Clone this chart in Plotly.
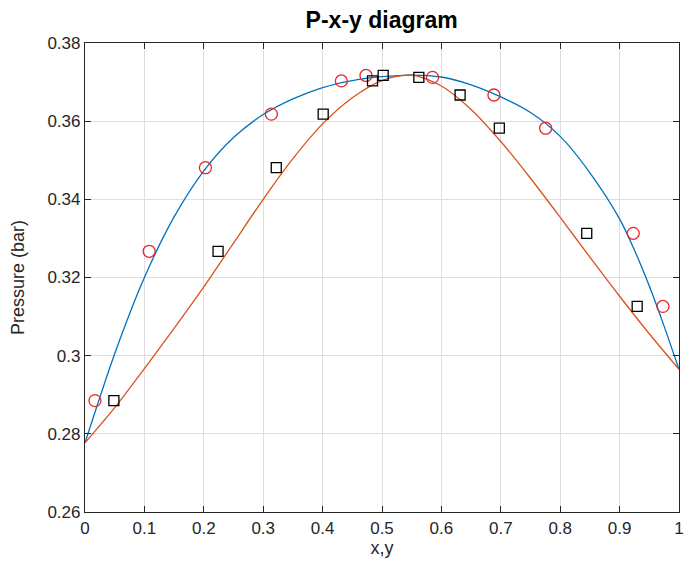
import plotly.graph_objects as go

# Liquid (x) and vapour (y) experimental data
x_liq = [0.0486, 0.224, 0.322, 0.401, 0.484, 0.502, 0.562, 0.6315, 0.6975, 0.8447, 0.9296]
p_liq = [0.2885, 0.3267, 0.3481, 0.3618, 0.3703, 0.3717, 0.3712, 0.3667, 0.3582, 0.3313, 0.3126]
y_vap = [0.0168, 0.108, 0.2027, 0.3137, 0.4316, 0.473, 0.585, 0.6884, 0.7755, 0.923, 0.973]
p_vap = [0.2885, 0.3267, 0.3481, 0.3618, 0.3703, 0.3717, 0.3712, 0.3667, 0.3582, 0.3313, 0.3126]

# Model curves
dew_x = [0.0, 0.05, 0.1, 0.15, 0.2, 0.25, 0.3, 0.35, 0.4, 0.45, 0.5, 0.55, 0.6,
         0.65, 0.7, 0.75, 0.8, 0.85, 0.9, 0.925, 0.95, 0.975, 1.0]
dew_p = [0.2777, 0.3005, 0.3200, 0.3355, 0.3473, 0.3558, 0.3617, 0.3657, 0.3686, 0.3704,
         0.3714, 0.3718, 0.3713, 0.3693, 0.3662, 0.3622, 0.3561, 0.3468, 0.3350, 0.3270,
         0.3178, 0.3075, 0.2965]
bub_x = [0.0, 0.05, 0.1, 0.15, 0.2, 0.25, 0.3, 0.35, 0.4, 0.45, 0.5, 0.55, 0.6, 0.65, 0.7,
         0.75, 0.8, 0.85, 0.9, 0.95, 1.0]
bub_p = [0.2777, 0.2867, 0.2967, 0.3070, 0.3176, 0.3288, 0.3400, 0.3504, 0.3593, 0.3660,
         0.3704, 0.3718, 0.3690, 0.3630, 0.3548, 0.3454, 0.3354, 0.3252, 0.3152, 0.3056, 0.2965]

x_ticks = [0, 0.1, 0.2, 0.3, 0.4, 0.5, 0.6, 0.7, 0.8, 0.9, 1]
x_labels = ["0", "0.1", "0.2", "0.3", "0.4", "0.5", "0.6", "0.7", "0.8", "0.9", "1"]
y_ticks = [0.26, 0.28, 0.30, 0.32, 0.34, 0.36, 0.38]
y_labels = ["0.26", "0.28", "0.3", "0.32", "0.34", "0.36", "0.38"]

FONT = "Liberation Sans, Arial, Helvetica"

fig = go.Figure()
fig.add_trace(go.Scatter(x=dew_x, y=dew_p, mode="lines",
                         line=dict(color="#0072BD", width=1.3, shape="spline", smoothing=0.8)))
fig.add_trace(go.Scatter(x=bub_x, y=bub_p, mode="lines",
                         line=dict(color="#D95319", width=1.3, shape="spline", smoothing=0.8)))
fig.add_trace(go.Scatter(x=y_vap, y=p_vap, mode="markers",
                         marker=dict(symbol="circle-open", size=12, color="#E8262B", line=dict(width=1.3))))
fig.add_trace(go.Scatter(x=x_liq, y=p_liq, mode="markers",
                         marker=dict(symbol="square-open", size=10, color="black", line=dict(width=1.3))))

axis_common = dict(showline=True, linecolor="#262626", linewidth=1.2, mirror="ticks",
                   ticks="inside", ticklen=6, tickcolor="#262626", tickwidth=1,
                   showgrid=True, gridcolor="#DEDEDE", gridwidth=1, zeroline=False,
                   ticklabeloverflow="allow", automargin=False,
                   tickfont=dict(family=FONT, size=17, color="#262626"))

fig.update_layout(
    width=684, height=563,
    margin=dict(l=85, r=5, t=43, b=51),
    paper_bgcolor="white", plot_bgcolor="white",
    showlegend=False,
    title=dict(text="<b>P-x-y diagram</b>", x=0.5580, xanchor="center",
               y=1 - 20 / 563, yanchor="middle",
               font=dict(family=FONT, size=23, color="black")),
    xaxis=dict(range=[0, 1], tickvals=x_ticks, ticktext=x_labels,
               title=dict(text="x,y", font=dict(family=FONT, size=18, color="#262626"), standoff=4),
               **axis_common),
    yaxis=dict(range=[0.26, 0.38], tickvals=y_ticks, ticktext=y_labels,
               title=dict(text="Pressure (bar)", font=dict(family=FONT, size=18, color="#262626"), standoff=18),
               **axis_common),
)

fig.write_html("out.html")
